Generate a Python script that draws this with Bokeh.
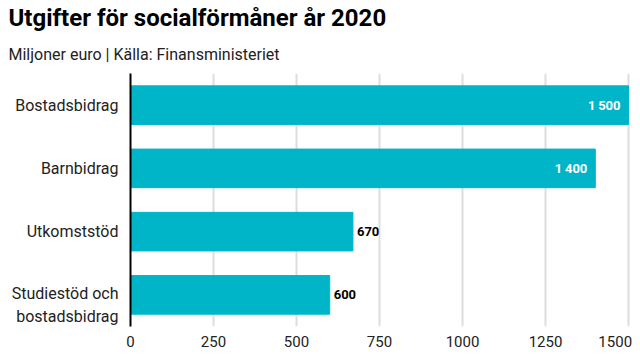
from bokeh.plotting import figure
from bokeh.models import ColumnDataSource, Range1d, Title, LabelSet, FixedTicker
from bokeh.core.properties import value
from bokeh.embed import file_html
from bokeh.resources import INLINE

categories = ["Bostadsbidrag", "Barnbidrag", "Utkomststöd", "Studiestöd och\nbostadsbidrag"]
values = [1500, 1400, 670, 600]
x_ticks = [0, 250, 500, 750, 1000, 1250, 1500]

FONT = "Roboto"
BAR = "#00B5C8"
TXT = "#222222"
LINE_SHIFT = 0.16  # two-line labels: first line level with the bar centre

n = len(categories)
pos = [n - 1 - i for i in range(n)]  # top to bottom
labels = [f"{v:,}".replace(",", "\u2009") for v in values]
inside = [v >= 1000 for v in values]

src_in = ColumnDataSource(dict(
    pos=[q for q, i in zip(pos, inside) if i],
    val=[v for v, i in zip(values, inside) if i],
    lab=[l for l, i in zip(labels, inside) if i],
))
src_out = ColumnDataSource(dict(
    pos=[q for q, i in zip(pos, inside) if not i],
    val=[v for v, i in zip(values, inside) if not i],
    lab=[l for l, i in zip(labels, inside) if not i],
))
src = ColumnDataSource(dict(pos=pos, val=values))

tick_pos = [q - (LINE_SHIFT if "\n" in c else 0) for q, c in zip(pos, categories)]

p = figure(width=640, height=360, output_backend="svg", toolbar_location=None,
           y_range=Range1d(-0.5, n - 0.5), x_range=Range1d(0, 1506),
           min_border_left=130, min_border_right=10, min_border_bottom=34,
           min_border_top=5)

p.hbar(y="pos", right="val", height=0.61, source=src, color=BAR)

# value labels
p.add_layout(LabelSet(x="val", y="pos", text="lab", source=src_in, x_offset=-8,
                      text_align="right", text_baseline="middle", text_color="white",
                      text_font=value(FONT), text_font_style="bold", text_font_size="13px"))
p.add_layout(LabelSet(x="val", y="pos", text="lab", source=src_out, x_offset=4,
                      text_align="left", text_baseline="middle", text_color="black",
                      text_font=value(FONT), text_font_style="bold", text_font_size="13px"))

p.add_layout(Title(text="Miljoner euro | Källa: Finansministeriet", text_font=FONT,
                   text_font_size="16px", text_font_style="normal", text_color=TXT,
                   offset=-122, standoff=19), "above")
p.add_layout(Title(text="Utgifter för socialförmåner år 2020", text_font=FONT,
                   text_font_size="24px", text_font_style="bold", text_color="black",
                   offset=-122, standoff=3), "above")

p.outline_line_color = None
p.background_fill_color = "white"

# last tick label is nudged left so it stays inside the window
p.xaxis.ticker = x_ticks
p.xaxis.major_label_overrides = {x_ticks[-1]: str(x_ticks[-1]) + "\u2007"}
p.xaxis.axis_line_color = None
p.xaxis.major_tick_line_color = None
p.xaxis.major_tick_out = 0
p.xaxis.minor_tick_line_color = None
p.xaxis.major_label_text_font = FONT
p.xaxis.major_label_text_font_size = "15px"
p.xaxis.major_label_text_color = TXT
p.xaxis.major_label_standoff = 6

p.yaxis.ticker = FixedTicker(ticks=tick_pos, minor_ticks=[])
p.yaxis.major_label_overrides = {t: c for t, c in zip(tick_pos, categories)}
p.yaxis.axis_line_color = "black"
p.yaxis.axis_line_width = 2
p.yaxis.major_tick_line_color = None
p.yaxis.major_tick_out = 0
p.yaxis.minor_tick_line_color = None
p.yaxis.major_label_text_font = FONT
p.yaxis.major_label_text_font_size = "16px"
p.yaxis.major_label_text_color = TXT
p.yaxis.major_label_text_line_height = 1.25
p.yaxis.major_label_standoff = 12

p.xgrid.grid_line_color = "#DDDDDD"
p.xgrid.grid_line_width = 2
p.ygrid.grid_line_color = None

open("out.html", "w").write(file_html(p, INLINE))
